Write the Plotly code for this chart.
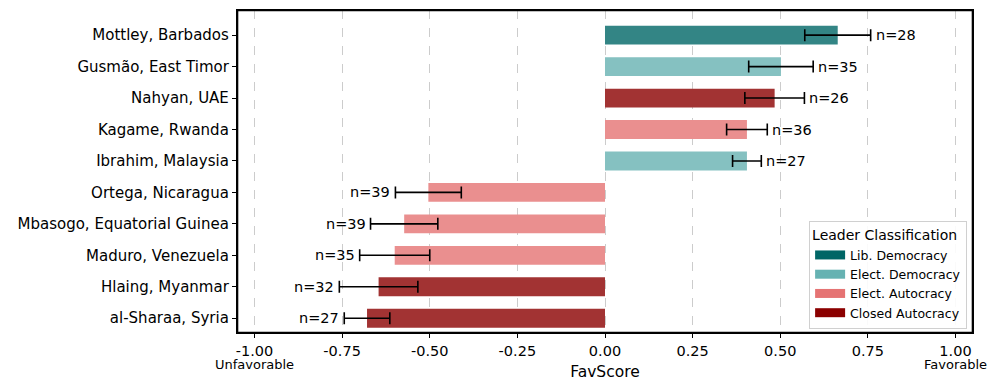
import plotly.graph_objects as go

# leaders, bottom to top
leaders = ['al-Sharaa, Syria', 'Hlaing, Myanmar', 'Maduro, Venezuela',
           'Mbasogo, Equatorial Guinea', 'Ortega, Nicaragua', 'Ibrahim, Malaysia',
           'Kagame, Rwanda', 'Nahyan, UAE', 'Gusmão, East Timor', 'Mottley, Barbados']
fav_score = [-0.679, -0.646, -0.600, -0.573, -0.504, 0.405, 0.405, 0.484, 0.502, 0.664]
err = [0.065, 0.112, 0.100, 0.096, 0.094, 0.041, 0.058, 0.085, 0.092, 0.094]
n_resp = [27, 32, 35, 39, 39, 27, 36, 26, 35, 28]
regime = ['Closed Autocracy', 'Closed Autocracy', 'Elect. Autocracy', 'Elect. Autocracy',
          'Elect. Autocracy', 'Elect. Democracy', 'Elect. Autocracy', 'Closed Autocracy',
          'Elect. Democracy', 'Lib. Democracy']
classes = ['Lib. Democracy', 'Elect. Democracy', 'Elect. Autocracy', 'Closed Autocracy']
x_ticks = [-1.0, -0.75, -0.5, -0.25, 0.0, 0.25, 0.5, 0.75, 1.0]

# full colours (legend) and the 0.8-alpha look of the bars
full_col = {'Lib. Democracy': '#006666', 'Elect. Democracy': '#66b2b2',
            'Elect. Autocracy': '#e57373', 'Closed Autocracy': '#8b0000'}
bar_col = {'Lib. Democracy': '#338585', 'Elect. Democracy': '#85c1c1',
           'Elect. Autocracy': '#ea8f8f', 'Closed Autocracy': '#a23333'}

FONT = 'DejaVu Sans'
ypos = list(range(len(leaders)))
x_range = [-1.05, 1.05]
y_range = [-0.47, 9.8]

fig = go.Figure()
fig.add_trace(go.Bar(
    x=fav_score, y=ypos, orientation='h', width=0.6,
    marker=dict(color=[bar_col[r] for r in regime], line=dict(width=0)),
    error_x=dict(type='data', array=err, visible=True, color='black',
                 thickness=1.6, width=6),
    showlegend=False, hoverinfo='skip'))

# legend patches (wide rectangles like the matplotlib ones)
for c in classes:
    fig.add_trace(go.Scatter(x=[None], y=[None], name=c, mode='lines',
                             line=dict(color=full_col[c], width=9)))

for i in ypos:
    v, e = fav_score[i], err[i]
    if v >= 0:
        fig.add_annotation(x=v + e, y=i, text=f'n={n_resp[i]}', showarrow=False,
                           xanchor='left', xshift=3, font=dict(size=14.5, color='black'))
    else:
        fig.add_annotation(x=v - e, y=i, text=f'n={n_resp[i]}', showarrow=False,
                           xanchor='right', xshift=-3, font=dict(size=14.5, color='black'))

fig.add_annotation(x=-1.0, y=0, yref='paper', yshift=-22, text='Unfavorable',
                   showarrow=False, xanchor='center', yanchor='top',
                   font=dict(size=13, color='black'))
fig.add_annotation(x=1.0, y=0, yref='paper', yshift=-22, text='Favorable',
                   showarrow=False, xanchor='center', yanchor='top',
                   font=dict(size=13, color='black'))

# frame around the plot area (data-referenced, half of the line is clipped)
fig.add_shape(type='rect', xref='x', yref='y',
              x0=x_range[0], x1=x_range[1], y0=y_range[0], y1=y_range[1],
              line=dict(color='black', width=2.6), layer='above')

# page body has an 8px margin, so the figure is sized to fit the window
fig.update_layout(
    width=989, height=383,
    margin=dict(l=229, r=24, t=2, b=58),
    plot_bgcolor='white', paper_bgcolor='white',
    font=dict(family=FONT, size=14, color='black'),
    legend=dict(title=dict(text='Leader Classification', font=dict(size=14)),
                x=0.992, y=0.012, xanchor='right', yanchor='bottom',
                bgcolor='rgba(255,255,255,0.9)', bordercolor='#d0d0d0', borderwidth=1,
                font=dict(size=12.5), tracegroupgap=0, itemwidth=30),
    xaxis=dict(range=x_range, tickvals=x_ticks,
               ticktext=[f'{t:.2f}' for t in x_ticks],
               showgrid=True, gridcolor='#cccccc', griddash='dash', gridwidth=1,
               zeroline=False, showline=True, linecolor='#000000', linewidth=1.3,
               mirror=True,
               ticks='outside', ticklen=4, tickwidth=1.2, tickcolor='black',
               tickfont=dict(size=14.5), automargin=False,
               title=dict(text='FavScore', font=dict(size=15.5), standoff=8)),
    yaxis=dict(range=y_range, tickvals=ypos, ticktext=leaders,
               showgrid=False, zeroline=False, showline=True, linecolor='#000000',
               linewidth=1.3, mirror=True,
               ticks='outside', ticklen=4, tickwidth=1.2,
               tickcolor='black', tickfont=dict(size=15), automargin=False),
)

fig.write_html('out.html')
